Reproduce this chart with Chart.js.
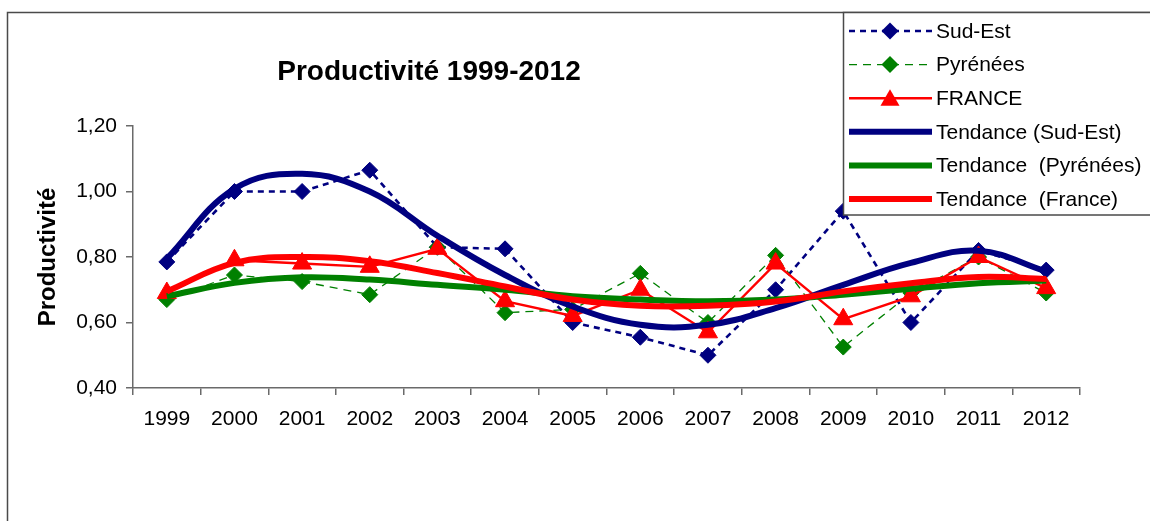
<!DOCTYPE html>
<html>
<head>
<meta charset="utf-8">
<title>Productivité 1999-2012</title>
<script src="https://cdn.jsdelivr.net/npm/chart.js@4.4.1/dist/chart.umd.min.js"></script>
<style>
  html, body { margin: 0; padding: 0; background: #ffffff; }
  #wrap { width: 1150px; height: 521px; position: relative; }
</style>
</head>
<body>
<div id="wrap"><canvas id="chart" width="1150" height="521"></canvas></div>
<script>
// Years on the horizontal axis
const years = ['1999', '2000', '2001', '2002', '2003', '2004', '2005',
               '2006', '2007', '2008', '2009', '2010', '2011', '2012'];

// Yearly productivity by zone
const sudEst   = [0.785, 1.00, 1.00, 1.065, 0.83, 0.825, 0.60, 0.555, 0.50, 0.70, 0.94, 0.60, 0.82, 0.76];
const pyrenees = [0.67, 0.745, 0.725, 0.685, 0.83, 0.63, 0.64, 0.75, 0.60, 0.805, 0.525, 0.69, 0.80, 0.69];
const france   = [0.69, 0.79, 0.78, 0.77, 0.825, 0.665, 0.62, 0.70, 0.57, 0.78, 0.61, 0.68, 0.80, 0.705];

// Trend curves for each zone, one value per year
const trendSudEst   = [0.795, 1.008, 1.054, 1.00, 0.865, 0.745, 0.649, 0.593, 0.593, 0.644, 0.715, 0.782, 0.819, 0.756];
const trendPyrenees = [0.68, 0.721, 0.738, 0.731, 0.715, 0.70, 0.68, 0.67, 0.665, 0.67, 0.685, 0.703, 0.72, 0.728];
const trendFrance   = [0.695, 0.782, 0.80, 0.787, 0.751, 0.71, 0.67, 0.651, 0.651, 0.664, 0.695, 0.72, 0.739, 0.733];

// Value axis range and labels
const yTicks = [0.40, 0.60, 0.80, 1.00, 1.20];
const yTickLabels = ['0,40', '0,60', '0,80', '1,00', '1,20'];

const chartTitle = 'Productivité 1999-2012';
const axisTitle = 'Productivité';
const legendLabels = ['Sud-Est', 'Pyrénées', 'FRANCE', 'Tendance (Sud-Est)', 'Tendance  (Pyrénées)', 'Tendance  (France)'];

const FONT = "'Liberation Sans', Arial, Helvetica, sans-serif";
const NAVY = '#000080';
const GREEN = '#008000';
const RED = '#ff0000';
const AXIS = '#6a6a6a';
const FRAME = '#4a4a4a';

// Legend sample styles, in the same order as the labels
const legendStyles = [
  { color: NAVY,  width: 2.6, dash: [6, 5], marker: 'rectRot',  r: 8.5 },
  { color: GREEN, width: 1.3, dash: [8, 6], marker: 'rectRot',  r: 8.5 },
  { color: RED,   width: 2.4, dash: [],     marker: 'triangle', r: 11 },
  { color: NAVY,  width: 6,   dash: [],     marker: null },
  { color: GREEN, width: 6,   dash: [],     marker: null },
  { color: RED,   width: 6,   dash: [],     marker: null }
];

function drawMarker(ctx, type, x, y, r, color) {
  ctx.save();
  ctx.fillStyle = color;
  ctx.beginPath();
  if (type === 'rectRot') {
    ctx.moveTo(x - r, y);
    ctx.lineTo(x, y - r);
    ctx.lineTo(x + r, y);
    ctx.lineTo(x, y + r);
  } else {
    ctx.moveTo(x, y - r);
    ctx.lineTo(x + r * 0.866, y + r * 0.5);
    ctx.lineTo(x - r * 0.866, y + r * 0.5);
  }
  ctx.closePath();
  ctx.fill();
  ctx.restore();
}

// Frame, title, vertical axis title and the boxed legend
const decorations = {
  id: 'decorations',
  afterDraw(chart) {
    const ctx = chart.ctx;
    const area = chart.chartArea;
    ctx.save();

    // outer frame
    ctx.strokeStyle = FRAME;
    ctx.lineWidth = 1.5;
    ctx.beginPath();
    ctx.moveTo(7.5, chart.height + 2);
    ctx.lineTo(7.5, 12.5);
    ctx.lineTo(chart.width + 2, 12.5);
    ctx.stroke();

    // chart title
    ctx.fillStyle = '#000';
    ctx.font = 'bold 28px ' + FONT;
    ctx.textAlign = 'center';
    ctx.textBaseline = 'middle';
    ctx.fillText(chartTitle, 429, 72);

    // vertical axis title
    ctx.save();
    ctx.translate(48, (area.top + area.bottom) / 2);
    ctx.rotate(-Math.PI / 2);
    ctx.font = 'bold 24px ' + FONT;
    ctx.fillText(axisTitle, 0, 0);
    ctx.restore();

    // legend box
    const box = { left: 843.5, top: 12.5, right: chart.width + 2, bottom: 215 };
    ctx.fillStyle = '#fff';
    ctx.fillRect(box.left, box.top, box.right - box.left, box.bottom - box.top);
    ctx.strokeStyle = FRAME;
    ctx.lineWidth = 1.5;
    ctx.strokeRect(box.left, box.top, box.right - box.left, box.bottom - box.top);

    ctx.font = '21px ' + FONT;
    ctx.textAlign = 'left';
    ctx.textBaseline = 'middle';
    legendLabels.forEach((label, i) => {
      const st = legendStyles[i];
      const y = 31 + i * 33.6;
      ctx.save();
      ctx.strokeStyle = st.color;
      ctx.lineWidth = st.width;
      ctx.setLineDash(st.dash);
      ctx.beginPath();
      ctx.moveTo(849, y);
      ctx.lineTo(932, y);
      ctx.stroke();
      ctx.restore();
      if (st.marker) drawMarker(ctx, st.marker, 890, y + (st.marker === 'triangle' ? 2 : 0), st.r, st.color);
      ctx.fillStyle = '#000';
      ctx.fillText(label, 936, y + 1);
    });
    ctx.restore();
  }
};

const tickFont = { family: FONT, size: 21 };

new Chart(document.getElementById('chart'), {
  type: 'line',
  data: {
    labels: years,
    datasets: [
      {
        label: legendLabels[0], data: sudEst, order: 5,
        borderColor: NAVY, backgroundColor: NAVY, borderWidth: 2.6, borderDash: [6, 5],
        pointStyle: 'rectRot', pointRadius: 8, pointBorderWidth: 1, pointBorderColor: NAVY,
        tension: 0, fill: false
      },
      {
        label: legendLabels[1], data: pyrenees, order: 4,
        borderColor: GREEN, backgroundColor: GREEN, borderWidth: 1.3, borderDash: [8, 6],
        pointStyle: 'rectRot', pointRadius: 8, pointBorderWidth: 1, pointBorderColor: GREEN,
        tension: 0, fill: false
      },
      {
        label: legendLabels[2], data: france, order: 3,
        borderColor: RED, backgroundColor: RED, borderWidth: 2.4,
        pointStyle: 'triangle', pointRadius: 11, pointBorderWidth: 1, pointBorderColor: RED,
        tension: 0, fill: false
      },
      {
        label: legendLabels[3], data: trendSudEst, order: 2,
        borderColor: NAVY, borderWidth: 6, pointRadius: 0, tension: 0.4, fill: false
      },
      {
        label: legendLabels[4], data: trendPyrenees, order: 1,
        borderColor: GREEN, borderWidth: 6, pointRadius: 0, tension: 0.4, fill: false
      },
      {
        label: legendLabels[5], data: trendFrance, order: 0,
        borderColor: RED, borderWidth: 6, pointRadius: 0, tension: 0.4, fill: false
      }
    ]
  },
  options: {
    responsive: false,
    animation: false,
    devicePixelRatio: 1,
    events: [],
    layout: { padding: { left: 0, top: 126, right: 70, bottom: 93 } },
    plugins: {
      legend: { display: false },
      title: { display: false },
      tooltip: { enabled: false }
    },
    scales: {
      x: {
        type: 'category',
        offset: true,
        grid: { offset: true, drawOnChartArea: false, drawTicks: true, tickLength: 7, color: AXIS, lineWidth: 1.5 },
        border: { display: true, color: AXIS, width: 1.5 },
        ticks: { color: '#000', font: tickFont, padding: 12, maxRotation: 0, autoSkip: false },
        afterFit(scale) { scale.height = 40; }
      },
      y: {
        min: yTicks[0],
        max: yTicks[yTicks.length - 1],
        afterBuildTicks(scale) { scale.ticks = yTicks.map(v => ({ value: v })); },
        grid: { drawOnChartArea: false, drawTicks: true, tickLength: 7, color: AXIS, lineWidth: 1.5 },
        border: { display: true, color: AXIS, width: 1.5 },
        ticks: {
          color: '#000', font: tickFont, padding: 9,
          callback(value) {
            const i = yTicks.findIndex(t => Math.abs(t - value) < 1e-9);
            return i >= 0 ? yTickLabels[i] : '';
          }
        },
        afterFit(scale) { scale.width = 133; }
      }
    }
  },
  plugins: [decorations]
});
</script>
</body>
</html>
